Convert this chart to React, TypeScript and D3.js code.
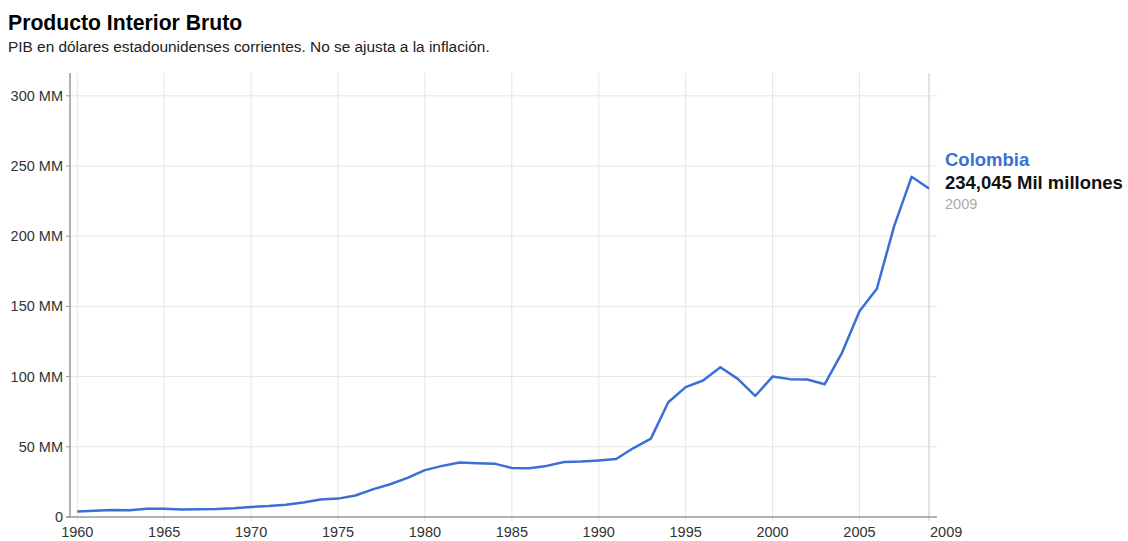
import React from "react";
import { scaleLinear, line } from "d3";

const years = [
  1960, 1961, 1962, 1963, 1964, 1965, 1966, 1967, 1968, 1969,
  1970, 1971, 1972, 1973, 1974, 1975, 1976, 1977, 1978, 1979,
  1980, 1981, 1982, 1983, 1984, 1985, 1986, 1987, 1988, 1989,
  1990, 1991, 1992, 1993, 1994, 1995, 1996, 1997, 1998, 1999,
  2000, 2001, 2002, 2003, 2004, 2005, 2006, 2007, 2008, 2009,
];
// PIB en miles de millones de USD
const gdp = [
  4.0, 4.5, 4.9, 4.8, 5.9, 5.8, 5.4, 5.5, 5.7, 6.2,
  7.2, 7.8, 8.7, 10.3, 12.4, 13.1, 15.3, 19.7, 23.3, 27.9,
  33.4, 36.4, 38.8, 38.3, 38.0, 34.9, 34.7, 36.4, 39.2, 39.5,
  40.3, 41.3, 49.1, 55.8, 81.7, 92.5, 97.2, 106.7, 98.4, 86.2,
  100.0, 98.2, 97.9, 94.6, 117.1, 146.6, 162.6, 207.4, 242.3, 234.0,
];
const xTicks = [1960, 1965, 1970, 1975, 1980, 1985, 1990, 1995, 2000, 2005, 2009];
const yTicks = [0, 50, 100, 150, 200, 250, 300];
const yLabels = ["0", "50 MM", "100 MM", "150 MM", "200 MM", "250 MM", "300 MM"];

const font = "'Liberation Sans', Arial, sans-serif";

export default function App() {
  const left = 70;
  const right = 937;
  const top = 73;
  const bottom = 517;

  const x = scaleLinear().domain([1960, 2009]).range([77.3, 929]);
  const y = scaleLinear().domain([0, 300]).range([bottom, 95.8]);

  const path = line<number>()
    .x((d, i) => x(years[i]))
    .y((d) => y(d))(gdp);

  return (
    <svg
      width={1128}
      height={541}
      style={{ position: "absolute", left: 0, top: 0, background: "white" }}
      fontFamily={font}
    >
      <text x={8} y={30} fontSize={21.2} fontWeight="bold" fill="#000">
        Producto Interior Bruto
      </text>
      <text x={8} y={52} fontSize={15.4} fill="#222">
        PIB en dólares estadounidenses corrientes. No se ajusta a la inflación.
      </text>

      {/* grid */}
      {yTicks.slice(1).map((t) => (
        <line key={"gy" + t} x1={left} x2={right} y1={y(t)} y2={y(t)} stroke="#e6e6e6" />
      ))}
      {xTicks.map((t) => (
        <line key={"gx" + t} x1={x(t)} x2={x(t)} y1={top} y2={bottom + 4} stroke="#e6e6e6" />
      ))}
      <line x1={x(2009)} x2={x(2009)} y1={top} y2={bottom + 4} stroke="#dcdcdc" strokeWidth={1.5} />

      {/* axes */}
      <line x1={left} x2={left} y1={top} y2={bottom} stroke="#999" strokeWidth={1.5} />
      <line x1={left - 4} x2={right} y1={bottom} y2={bottom} stroke="#999" strokeWidth={1.5} />
      {yTicks.map((t, i) => (
        <g key={"yt" + t}>
          <line x1={left - 4} x2={left} y1={y(t)} y2={y(t)} stroke="#999" />
          <text x={left - 7} y={y(t) + 5} textAnchor="end" fontSize={14.5} fill="#333">
            {yLabels[i]}
          </text>
        </g>
      ))}
      {xTicks.map((t, i) => (
        <text
          key={"xt" + t}
          x={i === xTicks.length - 1 ? x(t) + 1 : x(t)}
          y={537}
          textAnchor={i === xTicks.length - 1 ? "start" : "middle"}
          fontSize={14.5}
          fill="#333"
        >
          {t}
        </text>
      ))}

      <path d={path ?? ""} fill="none" stroke="#3b6fd6" strokeWidth={2.5} strokeLinejoin="round" />

      {/* legend */}
      <text x={945} y={166} fontSize={18.5} fontWeight="bold" fill="#3b6fd6">
        Colombia
      </text>
      <text x={945} y={189} fontSize={18.5} fontWeight="bold" fill="#111">
        234,045 Mil millones
      </text>
      <text x={945} y={209} fontSize={14.5} fill="#aaa">
        2009
      </text>
    </svg>
  );
}
